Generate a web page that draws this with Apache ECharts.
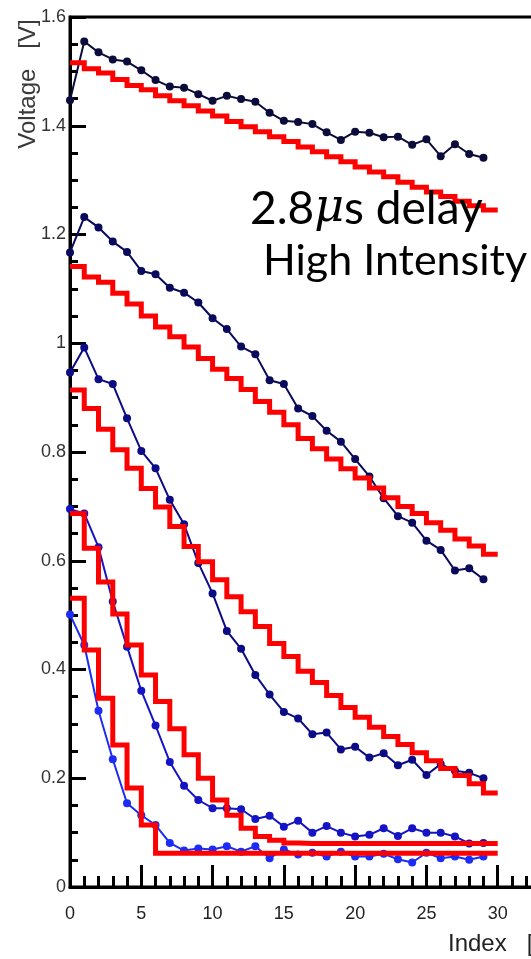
<!DOCTYPE html>
<html>
<head>
<meta charset="utf-8">
<script src="https://cdn.jsdelivr.net/npm/echarts@6/dist/echarts.min.js"></script>
<style>
html,body{margin:0;padding:0;background:#fff;}
#c{width:531px;height:959px;}
</style>
</head>
<body>
<div id="c"></div>
<script>
// measured index (x) for blue data series
const idx = [0,1,2,3,4,5,6,7,8,9,10,11,12,13,14,15,16,17,18,19,20,21,22,23,24,25,26,27,28,29];
// step index for red model curves (31 points, last point closes the final step)
const stepIdx = [0,1,2,3,4,5,6,7,8,9,10,11,12,13,14,15,16,17,18,19,20,21,22,23,24,25,26,27,28,29,30];

// measured voltages (dots)
const meas1 = [1.447,1.555,1.535,1.522,1.518,1.502,1.484,1.472,1.470,1.458,1.446,1.455,1.449,1.444,1.424,1.409,1.407,1.403,1.388,1.374,1.389,1.387,1.379,1.380,1.365,1.375,1.344,1.366,1.348,1.341];
const meas2 = [1.167,1.232,1.213,1.187,1.168,1.133,1.127,1.102,1.093,1.075,1.046,1.026,0.994,0.980,0.932,0.925,0.880,0.866,0.839,0.819,0.787,0.755,0.715,0.682,0.670,0.637,0.620,0.582,0.586,0.566];
const meas3 = [0.946,0.992,0.934,0.925,0.862,0.802,0.770,0.712,0.667,0.596,0.540,0.471,0.438,0.390,0.354,0.322,0.310,0.281,0.284,0.253,0.258,0.238,0.246,0.224,0.234,0.206,0.226,0.214,0.210,0.200];
const meas4 = [0.695,0.687,0.625,0.525,0.442,0.361,0.297,0.230,0.186,0.160,0.145,0.145,0.143,0.125,0.131,0.111,0.122,0.100,0.112,0.100,0.093,0.096,0.108,0.094,0.108,0.100,0.100,0.093,0.080,0.081];
const meas5 = [0.501,0.445,0.324,0.235,0.154,0.132,0.114,0.081,0.067,0.071,0.069,0.075,0.065,0.075,0.053,0.069,0.060,0.063,0.056,0.065,0.056,0.056,0.061,0.051,0.045,0.063,0.053,0.056,0.050,0.056];

// red model staircases
const model1 = [1.516,1.505,1.497,1.485,1.474,1.466,1.455,1.446,1.437,1.427,1.418,1.408,1.398,1.389,1.380,1.371,1.361,1.352,1.343,1.334,1.324,1.315,1.306,1.296,1.287,1.278,1.270,1.261,1.253,1.245,1.245];
const model2 = [1.141,1.122,1.112,1.092,1.072,1.050,1.030,1.012,0.993,0.972,0.952,0.935,0.915,0.893,0.873,0.850,0.825,0.806,0.787,0.769,0.752,0.734,0.716,0.700,0.687,0.670,0.656,0.640,0.627,0.612,0.612];
const model3 = [0.914,0.880,0.842,0.804,0.770,0.733,0.699,0.663,0.626,0.598,0.565,0.534,0.506,0.479,0.448,0.424,0.397,0.376,0.352,0.330,0.312,0.294,0.277,0.262,0.247,0.232,0.218,0.205,0.190,0.173,0.173];
const model4 = [0.687,0.623,0.561,0.502,0.445,0.390,0.341,0.291,0.243,0.200,0.160,0.132,0.108,0.093,0.086,0.081,0.080,0.080,0.080,0.080,0.080,0.080,0.080,0.080,0.080,0.080,0.080,0.080,0.080,0.080,0.080];
const model5 = [0.531,0.436,0.347,0.261,0.182,0.114,0.062,0.062,0.062,0.062,0.062,0.062,0.062,0.062,0.062,0.062,0.062,0.062,0.062,0.062,0.062,0.062,0.062,0.062,0.062,0.062,0.062,0.062,0.062,0.062,0.062];

// axis ticks
const xMin = 0, xMax = 35, xStep = 5;
const yMin = 0, yMax = 1.6, yStep = 0.2;

const measList = [meas1, meas2, meas3, meas4, meas5];
const measColors = ['#0c0c3a', '#0a0a5c', '#0b0b85', '#1414c4', '#1c2cf5'];
const modelList = [model1, model2, model3, model4, model5];

const series = [];
measList.forEach((m, k) => {
  series.push({
    type: 'line',
    data: idx.map((x, i) => [x, m[i]]),
    symbol: 'circle',
    symbolSize: 8,
    lineStyle: { color: measColors[k], width: 2 },
    itemStyle: { color: measColors[k] },
    z: 2,
    silent: true,
    animation: false
  });
});
modelList.forEach((m) => {
  series.push({
    type: 'line',
    step: 'end',
    data: stepIdx.map((x, i) => [x, m[i]]),
    symbol: 'none',
    lineStyle: { color: '#ff0000', width: 5, join: 'miter' },
    z: 3,
    silent: true,
    animation: false
  });
});

const chart = echarts.init(document.getElementById('c'), null, { renderer: 'canvas' });
chart.setOption({
  animation: false,
  backgroundColor: '#fff',
  grid: { left: 70, top: 17, width: 499, height: 870, show: true, borderColor: '#000', borderWidth: 3, outerBoundsMode: 'none', containLabel: false },
  xAxis: {
    type: 'value', min: xMin, max: xMax, interval: xStep,
    axisLine: { onZero: false, lineStyle: { color: '#000', width: 3 } },
    axisTick: { inside: true, length: 22, lineStyle: { color: '#000', width: 3 } },
    minorTick: { show: true, splitNumber: 5, length: 11, lineStyle: { color: '#000', width: 3 } },
    axisLabel: { color: '#222', fontSize: 18, fontFamily: 'Liberation Sans', margin: 18 },
    splitLine: { show: false }
  },
  yAxis: {
    type: 'value', min: yMin, max: yMax, interval: yStep,
    axisLine: { onZero: false, lineStyle: { color: '#000', width: 3 } },
    axisTick: { inside: true, length: 16, lineStyle: { color: '#000', width: 3 } },
    minorTick: { show: true, splitNumber: 4, length: 8, lineStyle: { color: '#000', width: 3 } },
    axisLabel: { color: '#333', fontSize: 18, fontFamily: 'Liberation Sans', margin: 4 },
    splitLine: { show: false }
  },
  series: series,
  graphic: [
    { type: 'text', x: 28, y: 84, rotation: Math.PI / 2, silent: true,
      style: { text: 'Voltage   [V]', fill: '#3a3a3a', font: '24px "Liberation Sans"', align: 'center', verticalAlign: 'middle' } },
    { type: 'text', x: 448, y: 944, silent: true,
      style: { text: 'Index   [-]', fill: '#222', font: '24px "Liberation Sans"', align: 'left', verticalAlign: 'middle' } },
    { type: 'text', x: 250, y: 186, silent: true, z: 10,
      style: { text: '2.8{m|μ}s delay', fill: '#000', font: '46px Lato', align: 'left', verticalAlign: 'top',
               rich: { m: { fontStyle: 'italic', fontSize: 46, fontFamily: 'DejaVu Serif', fill: '#000' } } } },
    { type: 'text', x: 263, y: 240, silent: true, z: 10,
      style: { text: 'High Intensity', fill: '#000', font: '43px Lato', align: 'left', verticalAlign: 'top' } }
  ]
});
</script>
</body>
</html>
